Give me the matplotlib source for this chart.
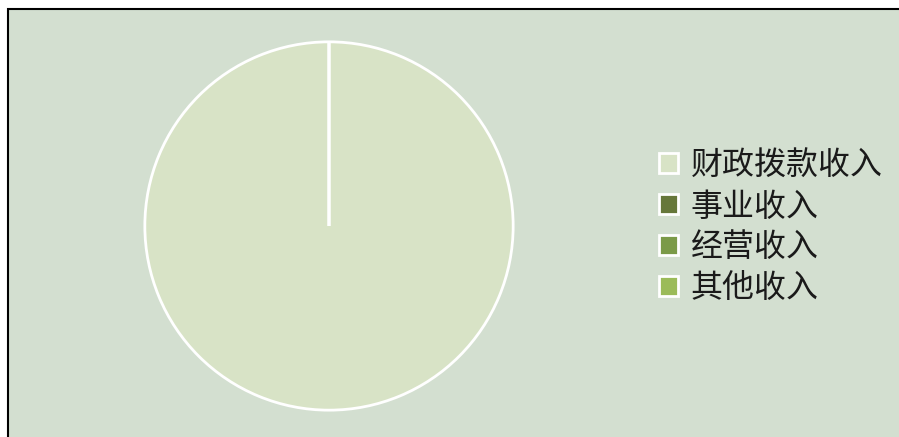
import matplotlib
matplotlib.use("Agg")
import matplotlib.pyplot as plt
from matplotlib.patches import Rectangle

plt.rcParams['font.family'] = ['Noto Sans CJK SC', 'DejaVu Sans']

# income sources (share of total)
labels = ['财政拨款收入', '事业收入', '经营收入', '其他收入']
values = [100, 0, 0, 0]
colors = ['#d8e3c6', '#66773a', '#7b9a48', '#9bbb59']

bg = '#d3dfd0'

fig = plt.figure(figsize=(8.99, 4.37), dpi=100)
fig.patch.set_facecolor('white')

# chart area with black frame (right/bottom edges run off the image)
fig.patches.append(Rectangle((8 / 899, -0.01), 1.0, (437 - 9) / 437 + 0.01,
                             transform=fig.transFigure, facecolor=bg,
                             edgecolor='black', linewidth=1.5, zorder=-5))

ax = fig.add_axes([(329 - 186) / 899, (437 - 226 - 186) / 437, 372 / 899, 372 / 437])
ax.set_facecolor('none')
ax.set_zorder(2)
wedges, _ = ax.pie(values, colors=colors, startangle=90, counterclock=False,
                   wedgeprops=dict(edgecolor='white', linewidth=2))
ax.set_xlim(-1.01, 1.01)
ax.set_ylim(-1.01, 1.01)
ax.set_aspect('equal')

leg = fig.legend(wedges, labels, loc='center left',
                 bbox_to_anchor=(659 / 899, 1 - 227 / 437),
                 frameon=False, fontsize=23, handlelength=0.58, handleheight=0.58,
                 handletextpad=0.42, labelspacing=0.28, borderpad=0,
                 borderaxespad=0, labelcolor='#1a1a1a')
leg.set_zorder(3)

fig.savefig('out.png', dpi=100)
